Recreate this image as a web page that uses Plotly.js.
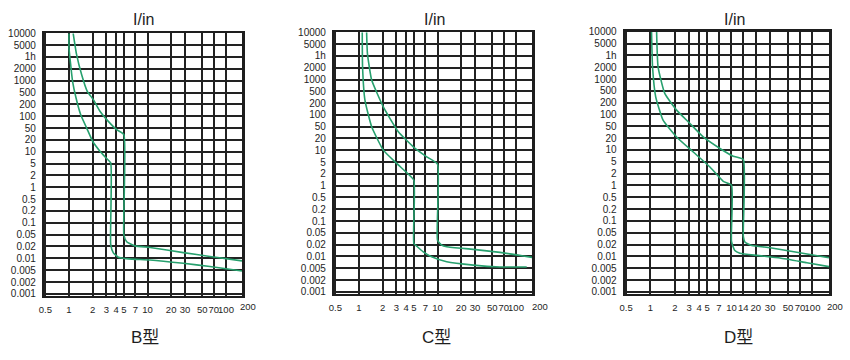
<!DOCTYPE html>
<html>
<head>
<meta charset="utf-8">
<script src="https://cdn.plot.ly/plotly-3.0.1.min.js"></script>
<style>html,body{margin:0;padding:0;background:#fff;}#chart{width:850px;height:360px;}</style>
</head>
<body>
<div id="chart"></div>
<script>
// ---- tick labels ----
const yTickLabels = ['10000','5000','1h','2000','1000','500','200','100','50','20','10','5','2','1','0.5','0.2','0.1','0.05','0.02','0.01','0.005','0.002','0.001'];
const yTickTimes  = [10000,5000,3600,2000,1000,500,200,100,50,20,10,5,2,1,0.5,0.2,0.1,0.05,0.02,0.01,0.005,0.002,0.001];
const xTicksBC = [0.5,1,2,3,4,5,7,10,20,30,50,70,100];
const xTicksD  = [0.5,1,2,3,4,5,7,10,14,20,30,50,70,100];
const xEndLabel = '200';
const panelTitles = ['B型','C型','D型'];
const topTitle = 'I/in';

// ---- curves: current (multiples of In) and trip time (s) ----
const B_upper_I = [1.13,1.25,1.45,1.71,2.04,2.48,3.17,4.05,5,5,5.43,6.93,10.8,28.6,62.5,160];
const B_upper_t = [10000,3840,1418,536,288,134,74,44,30,0.049,0.029,0.021,0.0188,0.014,0.0111,0.0086];
const B_lower_I = [1.0,1.0,1.05,1.11,1.23,1.41,1.68,2.0,2.48,3.02,3.4,3.4,3.67,4.25,5.7,10.8,28.6,62.5,160];
const B_lower_t = [10000,4620,2460,966,328,109,50,18.5,10.3,6.7,5.2,0.023,0.0138,0.0107,0.0097,0.0091,0.0075,0.0062,0.0047];

const C_upper_I = [1.25,1.28,1.45,2.04,3.17,4.92,7.29,10,10,11.3,13.1,28.6,62.5,160];
const C_upper_t = [10000,3870,969,161,33.7,12.3,6.83,4.28,0.0284,0.0195,0.0177,0.0152,0.0127,0.0095];
const C_lower_I = [1.10,1.11,1.19,1.45,2.04,3.02,4.05,5,5,5.43,6.59,8.43,13.1,28.6,62.5,137];
const C_lower_t = [10000,2100,254,49.7,10.1,4.52,2.2,1.38,0.0219,0.0184,0.0131,0.0098,0.0073,0.006,0.0054,0.0054];

const D_upper_I = [1.19,1.24,1.50,2.10,3.07,4.48,7.2,10.5,14,14,14.7,17.8,30,64,160];
const D_upper_t = [10000,2040,409,129,59,21.9,10.9,6.93,5.7,0.0377,0.024,0.0189,0.0166,0.0128,0.0092];
const D_lower_I = [1.03,1.06,1.16,1.43,2.10,3.37,5.42,7.92,10,10,11.0,12.7,20.5,39.8,85.2,160];
const D_lower_t = [10000,2040,313,71.7,21.9,8.89,3.34,1.27,1.02,0.0254,0.0141,0.0121,0.0106,0.0091,0.0069,0.0055];

// The time axis of this chart is ordinal: every labelled time gets one equal row.
function rowOf(t){
  for (let i=0;i<yTickTimes.length-1;i++){
    const a=yTickTimes[i], b=yTickTimes[i+1];
    if (t<=a && t>=b) return i + Math.log(a/t)/Math.log(a/b);
  }
  return t>yTickTimes[0] ? 0 : yTickTimes.length-1;
}

const GREEN = '#27a06e';
const FONT = 'Liberation Sans, Arial, "Noto Sans CJK SC", sans-serif';
const INK = '#1e1e1e';

function curve(I,t,n){
  return {x:I, y:t.map(rowOf), xaxis:'x'+(n>1?n:''), yaxis:'y'+(n>1?n:''),
    type:'scatter', mode:'lines', line:{color:GREEN,width:1.6,shape:'spline',smoothing:0.45}, hoverinfo:'skip'};
}
const data = [
  curve(B_upper_I,B_upper_t,1), curve(B_lower_I,B_lower_t,1),
  curve(C_upper_I,C_upper_t,2), curve(C_lower_I,C_lower_t,2),
  curve(D_upper_I,D_upper_t,3), curve(D_lower_I,D_lower_t,3)
];

const XRANGE = [-0.3147, 2.2077];
function xax(dom, ticks, anchor){
  return {domain:dom, type:'log', range:XRANGE, tickvals:ticks, ticktext:ticks.map(String), tickangle:0,
    showgrid:true, gridcolor:'#222', gridwidth:2, zeroline:false,
    showline:true, mirror:true, linecolor:INK, linewidth:2.4, ticks:'',
    tickfont:{family:FONT,size:9.5,color:INK}, ticklabelstandoff:3, anchor:anchor, fixedrange:true};
}
function yax(dom, anchor){
  return {domain:dom, range:[22.18,0], tickvals:yTickLabels.map((_,i)=>i), ticktext:yTickLabels,
    showgrid:true, gridcolor:'#222', gridwidth:2, zeroline:false,
    showline:true, mirror:true, linecolor:INK, linewidth:2.4, ticks:'',
    tickfont:{family:FONT,size:10,color:INK}, ticklabelstandoff:4, anchor:anchor, fixedrange:true};
}

const ann = [];
const titleX = [143/850, 434/850, 734/850];
const typeX = [145/850, 436.5/850, 738/850];
const endX = [248/850, 540/850, 835/850];
for (let k=0;k<3;k++){
  ann.push({text:topTitle, xref:'paper', yref:'paper', x:titleX[k], y:1-19.5/360, xanchor:'center', yanchor:'middle',
    showarrow:false, font:{family:FONT,size:16,color:INK}});
  ann.push({text:panelTitles[k], xref:'paper', yref:'paper', x:typeX[k], y:1-337.5/360, xanchor:'center', yanchor:'middle',
    showarrow:false, font:{family:FONT,size:17,color:INK}});
  ann.push({text:xEndLabel, xref:'paper', yref:'paper', x:endX[k], y:1-306.5/360, xanchor:'center', yanchor:'middle',
    showarrow:false, font:{family:FONT,size:9.5,color:INK}});
}

const layout = {
  width:850, height:360, margin:{l:0,r:0,t:0,b:0},
  paper_bgcolor:'#fff', plot_bgcolor:'#fff', showlegend:false,
  xaxis: xax([44.3/850, 242.3/850], xTicksBC, 'y'),
  yaxis: yax([1-296/360, 1-33.3/360], 'x'),
  xaxis2: xax([334.3/850, 532.3/850], xTicksBC, 'y2'),
  yaxis2: yax([1-294/360, 1-32.3/360], 'x2'),
  xaxis3: xax([625/850, 829.3/850], xTicksD, 'y3'),
  yaxis3: yax([1-294/360, 1-31.7/360], 'x3'),
  annotations: ann
};
Plotly.newPlot('chart', data, layout, {staticPlot:true, displayModeBar:false});
</script>
</body>
</html>
